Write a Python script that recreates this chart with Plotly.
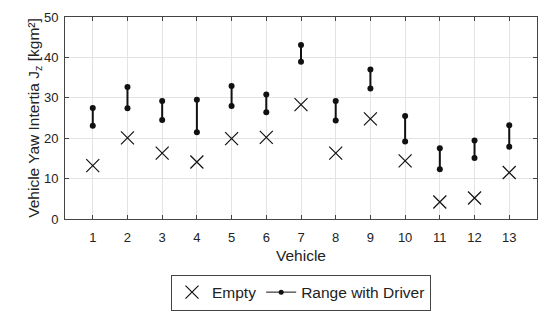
import plotly.graph_objects as go

vehicles = list(range(1, 14))
empty = [13.2, 20.1, 16.3, 14.1, 19.9, 20.2, 28.3, 16.3, 24.8, 14.4, 4.2, 5.2, 11.5]
driver_low = [23.1, 27.4, 24.5, 21.5, 28.0, 26.4, 38.9, 24.4, 32.3, 19.2, 12.3, 15.1, 17.9]
driver_high = [27.5, 32.7, 29.2, 29.5, 32.9, 30.8, 43.1, 29.2, 37.0, 25.5, 17.5, 19.4, 23.2]

rx, ry = [], []
for v, lo, hi in zip(vehicles, driver_low, driver_high):
    rx += [v, v, None]
    ry += [lo, hi, None]

fig = go.Figure()
fig.add_trace(go.Scatter(
    x=vehicles, y=empty, mode="markers", name="Empty",
    marker=dict(symbol="x-thin", size=13, line=dict(width=1.2, color="#111111"), color="#111111"),
))
fig.add_trace(go.Scatter(
    x=rx, y=ry, mode="lines+markers", name="Range with Driver", showlegend=False,
    line=dict(color="#111111", width=2),
    marker=dict(symbol="circle", size=6, color="#111111"),
))
# legend-only entry (thin line, small dot) for the range series
fig.add_trace(go.Scatter(
    x=[None], y=[None], mode="lines+markers", name="Range with Driver",
    line=dict(color="#111111", width=1),
    marker=dict(symbol="circle", size=5, color="#111111"),
))

axis_common = dict(
    showline=True, linecolor="#444444", linewidth=1, mirror="all",
    ticks="inside", ticklen=4, tickcolor="#444444",
    showgrid=True, gridcolor="#e3e3e3", zeroline=False, automargin=False,
    tickfont=dict(size=13, color="#222222"),
)
fig.update_xaxes(range=[0.2, 13.8], tickvals=vehicles, ticklabelstandoff=6,
                 title=dict(text="Vehicle", font=dict(size=15.5, color="#222222"), standoff=6),
                 **axis_common)
fig.update_yaxes(range=[0, 50], tickvals=[0, 10, 20, 30, 40, 50], ticklabelstandoff=3,
                 title=dict(text="Vehicle Yaw Intertia J<sub>z</sub> [kgm²]", font=dict(size=15.5, color="#222222"), standoff=0),
                 **axis_common)

fig.update_layout(
    width=542, height=312,
    margin=dict(l=57, r=13, t=9, b=96),
    plot_bgcolor="white", paper_bgcolor="white",
    font=dict(family="Liberation Sans, Arial, sans-serif", color="#222222"),
    legend=dict(orientation="h", x=0.5, xanchor="center", y=-0.275, yanchor="top",
                bordercolor="#444444", borderwidth=1, font=dict(size=15.5)),
    showlegend=True,
)
fig.write_html("out.html")
